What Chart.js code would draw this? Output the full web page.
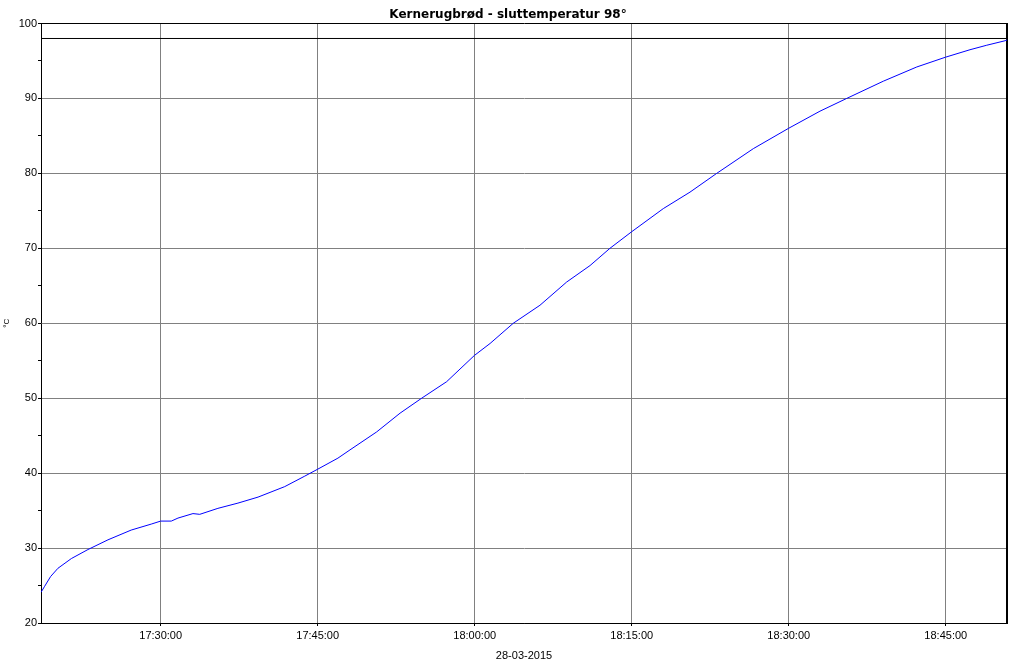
<!DOCTYPE html>
<html>
<head>
<meta charset="utf-8">
<script src="https://cdn.jsdelivr.net/npm/chart.js@4/dist/chart.umd.min.js"></script>
<style>
  html, body { margin: 0; padding: 0; background: #ffffff; }
  canvas { display: block; }
</style>
</head>
<body>
<canvas id="c" width="1016" height="664"></canvas>
<script>
// ---- data ----
const titleText = "Kernerugbrød - sluttemperatur 98°";
const dateLabel = "28-03-2015";
const unitLabel = "°C";

const times = [
  "17:18:34","17:18:55","17:19:29","17:20:11","17:21:28","17:23:03","17:24:58",
  "17:27:11","17:29:06","17:30:00","17:31:01","17:31:39","17:33:05","17:33:44",
  "17:35:28","17:37:23","17:39:18","17:41:51","17:43:46","17:44:58","17:46:56",
  "17:48:05","17:50:38","17:52:52","17:54:56","17:57:19","17:59:58","18:01:28",
  "18:03:41","18:06:14","18:08:47","18:11:01","18:12:55","18:14:59","18:18:01",
  "18:20:34","18:23:07","18:26:37","18:29:58","18:32:59","18:35:32","18:39:02",
  "18:42:14","18:44:58","18:47:19","18:48:55","18:50:40","18:50:51"
];
const temps = [
  24.1, 24.9, 26.2, 27.3, 28.6, 29.8, 31.1,
  32.4, 33.2, 33.6, 33.6, 34.0, 34.6, 34.5,
  35.3, 36.0, 36.8, 38.2, 39.6, 40.5, 42.0,
  43.1, 45.5, 48.0, 50.0, 52.2, 55.7, 57.3,
  60.0, 62.4, 65.5, 67.7, 70.0, 72.2, 75.3,
  77.5, 80.0, 83.3, 86.0, 88.3, 90.0, 92.3,
  94.2, 95.5, 96.5, 97.1, 97.7, 97.8
];
const targetTemp = 98;
const xTickTimes = ["17:30:00","17:45:00","18:00:00","18:15:00","18:30:00","18:45:00"];
const axisStart = "17:18:34";
const axisEnd = "18:50:51";
const yMin = 20, yMax = 100, yMajor = 10, yMinor = 5;

// ---- helpers ----
function toMin(s) {
  const p = s.split(":").map(Number);
  return p[0] * 60 + p[1] + (p[2] || 0) / 60;
}
function fmt(m) {
  const tot = Math.round(m * 60);
  const h = Math.floor(tot / 3600), mi = Math.floor((tot % 3600) / 60), se = tot % 60;
  const z = n => String(n).padStart(2, "0");
  return z(h) + ":" + z(mi) + ":" + z(se);
}
const xMin = toMin(axisStart), xMax = toMin(axisEnd);
const series = times.map((t, i) => ({ x: toMin(t), y: temps[i] }));
const targetLine = [{ x: xMin, y: targetTemp }, { x: xMax, y: targetTemp }];

const tickFont = { family: "'Liberation Sans', Arial, sans-serif", size: 11 };

new Chart(document.getElementById("c"), {
  type: "line",
  data: {
    datasets: [
      { data: series, borderColor: "#0000ff", borderWidth: 1, pointRadius: 0, tension: 0, fill: false },
      { data: targetLine, borderColor: "#000000", borderWidth: 1, pointRadius: 0, tension: 0, fill: false }
    ]
  },
  options: {
    responsive: false,
    devicePixelRatio: 1,
    animation: false,
    layout: { padding: 0 },
    plugins: {
      legend: { display: false },
      tooltip: { enabled: false },
      title: {
        display: true,
        text: titleText,
        color: "#000",
        font: { family: "'DejaVu Sans', sans-serif", size: 12, weight: "bold" },
        padding: { top: 7.6, bottom: 1.5 }
      }
    },
    scales: {
      x: {
        type: "linear",
        min: xMin, max: xMax,
        afterBuildTicks: s => { s.ticks = xTickTimes.map(t => ({ value: toMin(t) })); },
        afterFit: s => { s.height = 41; },
        ticks: {
          autoSkip: false, maxRotation: 0, minRotation: 0,
          color: "#000", font: tickFont, padding: 3,
          callback: v => fmt(v)
        },
        grid: { color: "#808080", lineWidth: 1, drawTicks: true, tickLength: 3, tickColor: "#000" },
        border: { display: true, color: "#000", width: 1 },
        title: { display: true, text: dateLabel, color: "#000", font: tickFont, padding: { top: 0, bottom: 1.5 } }
      },
      y: {
        type: "linear",
        min: yMin, max: yMax,
        afterFit: s => { s.width = 41; },
        ticks: {
          stepSize: yMinor, autoSkip: false,
          color: "#000", font: tickFont, padding: 1,
          callback: v => (v % yMajor === 0 ? String(v) : "")
        },
        grid: {
          drawTicks: true, tickLength: 3, tickColor: "#000", lineWidth: 1,
          color: c => {
            const v = c.tick ? c.tick.value : 0;
            if (v % yMajor !== 0) return "rgba(0,0,0,0)";
            return (v === yMax || v === yMin) ? "#000" : "#808080";
          }
        },
        border: { display: true, color: "#000", width: 1 },
        title: { display: true, text: unitLabel, color: "#000",
                 font: { family: "'Liberation Sans', Arial, sans-serif", size: 8 },
                 padding: { top: 2, bottom: 0 } }
      },
      y2: {
        type: "linear",
        position: "right",
        min: yMin, max: yMax,
        afterFit: s => { s.width = 9; },
        ticks: { display: false },
        grid: { display: false },
        border: { display: true, color: "#000", width: 2 }
      }
    }
  }
});
</script>
</body>
</html>
